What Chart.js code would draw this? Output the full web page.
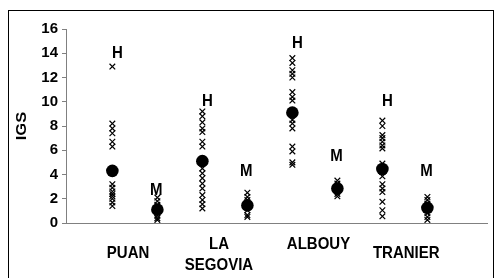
<!DOCTYPE html>
<html>
<head>
<meta charset="utf-8">
<script src="https://cdn.jsdelivr.net/npm/chart.js@4.4.1/dist/chart.umd.min.js"></script>
<style>
  html, body { margin: 0; padding: 0; background: #fff; }
  #wrap { width: 494px; height: 278px; }
</style>
</head>
<body>
<div id="wrap"><canvas id="c" width="494" height="278"></canvas></div>
<script>
// ---- data ----
const sites = ["PUAN", "LA\nSEGOVIA", "ALBOUY", "TRANIER"];
const groups = ["H", "M"];
const yTicks = [0, 2, 4, 6, 8, 10, 12, 14, 16];

const puanH = [12.9, 8.2, 7.8, 7.4, 6.7, 6.3, 3.2, 2.9, 2.6, 2.4, 2.2, 2.0, 1.7, 1.4];
const puanM = [2.1, 1.8, 1.5, 1.2, 1.0, 0.8, 0.6, 0.4, 0.25];
const segoviaH = [9.2, 8.8, 8.3, 7.8, 7.5, 6.7, 6.3, 4.5, 4.1, 3.7, 3.25, 2.85, 2.3, 1.9, 1.55, 1.2];
const segoviaM = [2.5, 2.15, 1.9, 1.45, 1.05, 0.65, 0.5];
const albouyH = [13.6, 13.2, 12.6, 12.3, 12.0, 10.8, 10.4, 10.1, 8.5, 8.2, 7.8, 6.3, 5.9, 5.0, 4.8];
const albouyM = [3.5, 3.25, 3.0, 2.7, 2.4, 2.2];
const tranierH = [8.45, 8.0, 7.25, 7.0, 6.7, 6.4, 6.15, 4.9, 4.6, 4.2, 3.85, 3.2, 2.85, 2.55, 1.75, 1.05, 0.55];
const tranierM = [2.15, 1.9, 1.6, 1.2, 0.8, 0.5, 0.25];

const means = [4.3, 1.1, 5.1, 1.45, 9.1, 2.85, 4.45, 1.25];        // H,M per site
const groupLabelY = [14.0, 2.7, 10.05, 4.3, 14.8, 5.5, 10.05, 4.3]; // heights of H/M labels

const seriesByColumn = [puanH, puanM, segoviaH, segoviaM, albouyH, albouyM, tranierH, tranierM];

// ---- build datasets ----
const crossPts = [];
seriesByColumn.forEach((arr, i) => arr.forEach(v => crossPts.push({ x: i + 1, y: v })));
const meanPts = means.map((v, i) => ({ x: i + 1, y: v }));

const FONT = "'Liberation Sans', Arial, sans-serif";

function stretchedText(ctx, txt, x, y) {
  ctx.save();
  ctx.translate(x, y);
  ctx.scale(1, 1.15);
  ctx.fillText(txt, 0, 0);
  ctx.restore();
}

const decor = {
  id: 'decor',
  afterDraw(chart) {
    const ctx = chart.ctx;
    const xs = chart.scales.x, ys = chart.scales.y;
    ctx.save();
    // outer frame
    ctx.strokeStyle = '#000';
    ctx.lineWidth = 1;
    ctx.strokeRect(8.5, 10.5, 485, 290);
    // y title
    ctx.fillStyle = '#000';
    ctx.font = 'bold 15px ' + FONT;
    ctx.textAlign = 'center';
    ctx.textBaseline = 'middle';
    ctx.save();
    ctx.translate(22, (ys.top + ys.bottom) / 2);
    ctx.rotate(-Math.PI / 2);
    ctx.scale(1.1, 1);
    ctx.fillText('IGS', 0, 0);
    ctx.restore();
    // H / M labels
    groupLabelY.forEach((v, i) => {
      const px = xs.getPixelForValue(i + 1) + (i % 2 === 0 ? 5 : -1);
      stretchedText(ctx, groups[i % 2], px, ys.getPixelForValue(v));
    });
    // site labels (staggered)
    const centers = [1.35, 3.37, 5.58, 7.53];
    const rows = [253, 244, 244, 253];
    sites.forEach((s, i) => {
      const lines = s.split('\n');
      const px = xs.getPixelForValue(centers[i]);
      lines.forEach((ln, j) => {
        stretchedText(ctx, ln, px, rows[i] + j * 21);
      });
    });
    ctx.restore();
  }
};

new Chart(document.getElementById('c'), {
  type: 'scatter',
  data: {
    datasets: [
      {
        data: crossPts,
        pointStyle: 'crossRot',
        pointRadius: 4,
        pointBorderWidth: 1.2,
        borderColor: '#000',
        backgroundColor: '#000'
      },
      {
        data: meanPts,
        pointStyle: 'circle',
        pointRadius: 6.3,
        pointBorderWidth: 0,
        borderColor: '#000',
        backgroundColor: '#000'
      }
    ]
  },
  options: {
    responsive: false,
    animation: false,
    layout: { padding: { top: 29, right: 0, bottom: 0, left: 0 } },
    plugins: { legend: { display: false }, tooltip: { enabled: false } },
    scales: {
      x: {
        type: 'linear',
        min: -0.03,
        max: 9.34,
        afterFit(s) { s.height = 55; },
        ticks: { display: false },
        grid: { display: false, drawTicks: false },
        border: { display: true, color: '#808080', width: 1 }
      },
      y: {
        min: 0,
        max: 16,
        afterFit(s) { s.width = 66; },
        afterBuildTicks(s) { s.ticks = yTicks.map(v => ({ value: v })); },
        ticks: {
          color: '#000',
          padding: 4,
          font: { family: FONT, size: 15, weight: 'bold' }
        },
        grid: { drawOnChartArea: false, tickLength: 4, color: '#808080' },
        border: { display: true, color: '#808080', width: 1 }
      }
    }
  },
  plugins: [decor]
});
</script>
</body>
</html>
